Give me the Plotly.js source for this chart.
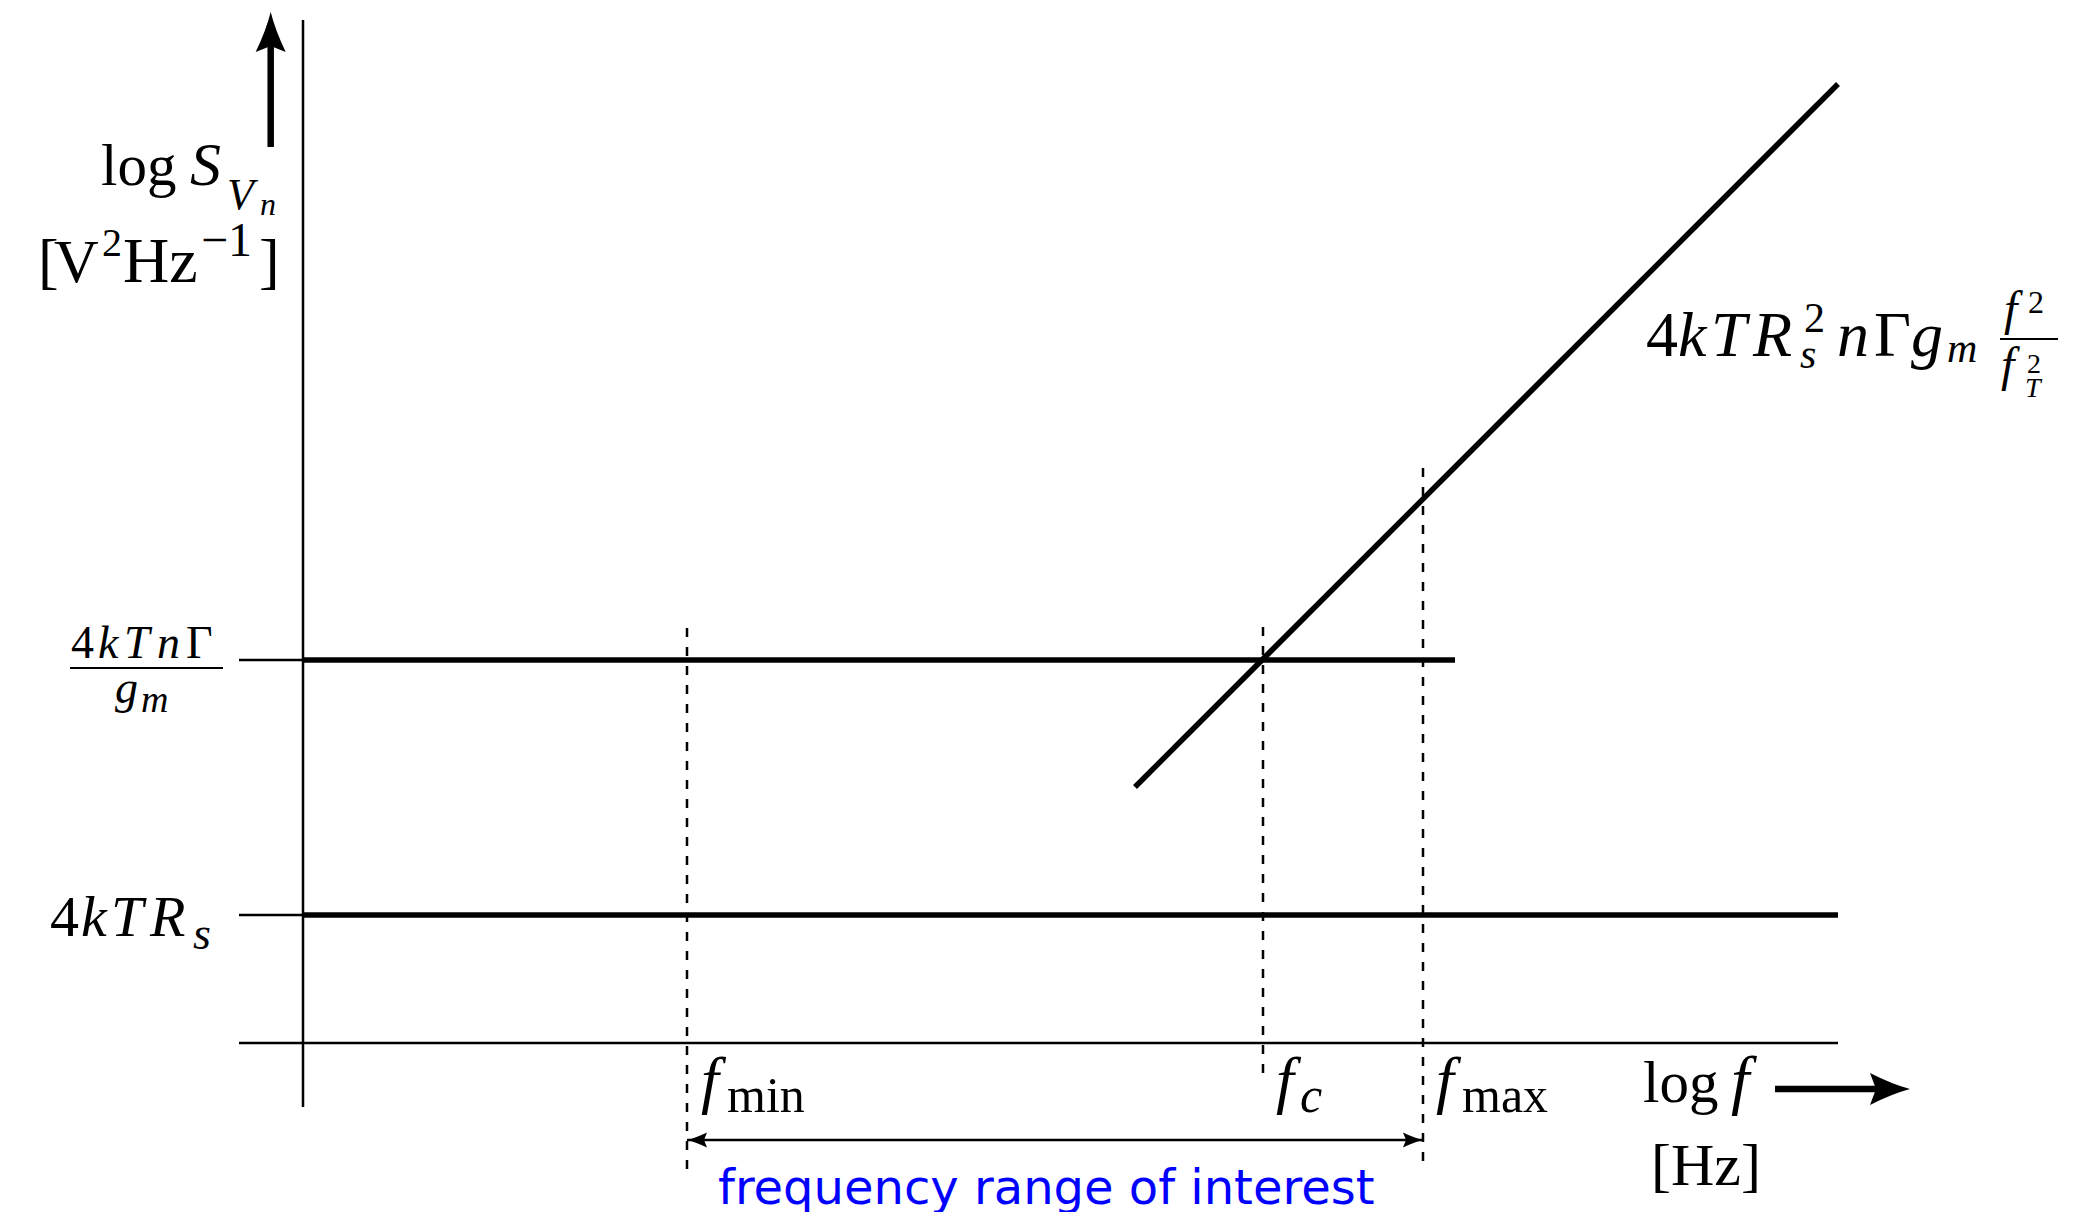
<!DOCTYPE html>
<html>
<head>
<meta charset="utf-8">
<script src="https://cdn.plot.ly/plotly-3.0.1.min.js"></script>
<style>
  html, body { margin: 0; padding: 0; background: #ffffff; }
  #chart { width: 2086px; height: 1212px; }
</style>
</head>
<body>
<div id="chart"></div>
<script>
// Sketch of input-referred noise density: log S_Vn versus log f (arbitrary log units).

// Frequency markers (log f)
const freqNames   = ['fmin', 'fc', 'fmax'];
const freqPos     = [3.84, 9.60, 11.20];
const dashTop     = [4.15, 4.16, 5.75];
const dashBottom  = [-1.29, -0.32, -1.25];

// Noise floors (log S)
const thermalLevel = 1.28;          // 4kTRs
const channelLevel = 3.83;          // 4kTnΓ/gm
const thermalSpanX = [0, 15.35];
const channelSpanX = [0, 11.52];

// f^2 asymptote
const slopeX = [8.32, 15.35];
const slopeY = [2.56, 9.59];

// Axis extents
const axisSpanX = [-0.64, 15.35];
const axisSpanY = [-0.64, 10.23];
const tickSpanX = [-0.64, 0];

// Range-of-interest arrow height
const rangeArrowY = -0.97;

const W = 2086, H = 1212;
const MATH = 'Liberation Serif, serif';
const BLACK = '#000000';

function seg(x, y, width, dash) {
  return {
    type: 'scatter', mode: 'lines', x: x, y: y,
    line: { color: BLACK, width: width, dash: dash || 'solid' },
    hoverinfo: 'skip', showlegend: false, cliponaxis: false
  };
}

const traces = [];
// axes
traces.push(seg(axisSpanX, [0, 0], 2.5));
traces.push(seg([0, 0], axisSpanY, 2.5));
// level ticks
traces.push(seg(tickSpanX, [channelLevel, channelLevel], 2.5));
traces.push(seg(tickSpanX, [thermalLevel, thermalLevel], 2.5));
// noise floors
traces.push(seg(thermalSpanX, [thermalLevel, thermalLevel], 5.5));
traces.push(seg(channelSpanX, [channelLevel, channelLevel], 5.5));
// f^2 slope
traces.push(seg(slopeX, slopeY, 5.5));
// dashed frequency markers
freqPos.forEach((f, i) => traces.push(seg([f, f], [dashTop[i], dashBottom[i]], 2.5, '9px,10px')));
// range shaft
traces.push(seg([freqPos[0], freqPos[2]], [rangeArrowY, rangeArrowY], 2.5));

// axis direction arrows
const upArrow = { x: -0.323, y0: 8.96, tip: 10.31, len: 0.40, half: 0.15 };
const rightArrow = { y: -0.46, x0: 14.72, tip: 16.07, len: 0.40, half: 0.16 };
traces.push(seg([upArrow.x, upArrow.x], [upArrow.y0, upArrow.tip - upArrow.len * 0.8], 6.5));
traces.push(seg([rightArrow.x0, rightArrow.tip - rightArrow.len * 0.8], [rightArrow.y, rightArrow.y], 6.5));

// Arrowhead outline: tip at (tx,ty), pointing along (dx,dy), concave flanks.
function headPath(tx, ty, dx, dy, len, half) {
  const nx = -dy, ny = dx;
  const pt = (a, b) => [tx + dx * a + nx * b, ty + dy * a + ny * b];
  const f = p => p[0].toFixed(4) + ',' + p[1].toFixed(4);
  const c1 = pt(-0.45 * len, 0.30 * half), b1 = pt(-len, half);
  const notch = pt(-0.85 * len, 0);
  const b2 = pt(-len, -half), c2 = pt(-0.45 * len, -0.30 * half);
  return 'M' + f([tx, ty]) + ' Q' + f(c1) + ' ' + f(b1) + ' L' + f(notch) +
         ' L' + f(b2) + ' Q' + f(c2) + ' ' + f([tx, ty]) + ' Z';
}
function head(path) {
  return { type: 'path', xref: 'x', yref: 'y', path: path, fillcolor: BLACK,
           line: { width: 0 }, layer: 'above' };
}

const shapes = [
  head(headPath(upArrow.x, upArrow.tip, 0, 1, upArrow.len, upArrow.half)),
  head(headPath(rightArrow.tip, rightArrow.y, 1, 0, rightArrow.len, rightArrow.half)),
  head(headPath(freqPos[0], rangeArrowY, -1, 0, 0.20, 0.075)),
  head(headPath(freqPos[2], rangeArrowY, 1, 0, 0.20, 0.075)),
  // fraction bar of 4kTnΓ / g_m
  { type: 'line', xref: 'x', yref: 'y', x0: -2.33, x1: -0.80,
    y0: channelLevel - 0.08, y1: channelLevel - 0.08, line: { color: BLACK, width: 2 } },
  // fraction bar of f^2 / f_T^2
  { type: 'line', xref: 'x', yref: 'y', x0: 16.97, x1: 17.55,
    y0: 7.04, y1: 7.04, line: { color: BLACK, width: 2 } }
];

// One typeset piece: left edge and baseline in figure pixels.
function piece(text, left, baseline, size, opts) {
  return Object.assign({
    text: text, xref: 'paper', yref: 'paper',
    x: left / W, y: 1 - (baseline - 0.3375 * size) / H,
    xanchor: 'left', yanchor: 'middle', showarrow: false, borderpad: 0,
    font: { family: MATH, size: size, color: BLACK }
  }, opts || {});
}
// Piece whose horizontal position follows a frequency marker.
function markPiece(text, f, shift, baseline, size) {
  return piece(text, 0, baseline, size, { xref: 'x', x: f, xshift: shift });
}

const annotations = [
  // vertical axis title: log S_{V_n} [V^2 Hz^-1]
  piece('log', 100, 185, 59),
  piece('<i>S</i>', 189, 185, 62),
  piece('<i>V</i>', 226, 209, 44),
  piece('<i>n</i>', 259, 215, 32),
  piece('[', 37, 282, 62),
  piece('V', 53, 282, 62),
  piece('2', 101, 256, 40),
  piece('Hz', 122, 282, 64),
  piece('−1', 200, 256, 48),
  piece(']', 258, 282, 62),

  // 4kTnΓ / g_m
  piece('4', 70, 658, 46),
  piece('<i>k</i>', 97, 658, 46),
  piece('<i>T</i>', 123, 658, 46),
  piece('<i>n</i>', 156, 658, 46),
  piece('Γ', 185, 658, 46),
  piece('<i>g</i>', 114, 703, 46),
  piece('<i>m</i>', 140, 712, 38),

  // 4kTR_s
  piece('4', 49, 936, 58),
  piece('<i>k</i>', 80, 936, 58),
  piece('<i>T</i>', 110, 936, 58),
  piece('<i>R</i>', 148, 936, 58),
  piece('<i>s</i>', 192, 949, 46),

  // 4kTR_s^2 nΓ g_m f^2/f_T^2
  piece('4', 1645, 356, 64),
  piece('<i>k</i>', 1677, 356, 64),
  piece('<i>T</i>', 1710, 356, 64),
  piece('<i>R</i>', 1751, 356, 64),
  piece('<i>s</i>', 1799, 368, 42),
  piece('2', 1803, 332, 42),
  piece('<i>n</i>', 1836, 356, 64),
  piece('Γ', 1873, 356, 64),
  piece('<i>g</i>', 1910, 356, 64),
  piece('<i>m</i>', 1946, 362, 42),
  piece('<i>f</i>', 2003, 325, 48),
  piece('2', 2027, 313, 32),
  piece('<i>f</i>', 2000, 381, 48),
  piece('2', 2026, 373, 28),
  piece('<i>T</i>', 2024, 397, 28),

  // frequency marker labels
  markPiece('<i>f</i>', freqPos[0], 13, 1101, 64),
  markPiece('min', freqPos[0], 39, 1112, 50),
  markPiece('<i>f</i>', freqPos[1], 12, 1101, 64),
  markPiece('<i>c</i>', freqPos[1], 36, 1112, 50),
  markPiece('<i>f</i>', freqPos[2], 12, 1101, 64),
  markPiece('max', freqPos[2], 38, 1112, 50),

  // horizontal axis title
  piece('log', 1642, 1102, 59),
  piece('<i>f</i>', 1730, 1102, 66),
  piece('[Hz]', 1650, 1185, 60),

  // range of interest caption
  {
    text: 'frequency range of interest', xref: 'x', yref: 'y',
    x: (freqPos[0] + freqPos[2]) / 2, y: -1.44, xshift: -9,
    xanchor: 'center', yanchor: 'middle', showarrow: false,
    font: { family: 'DejaVu Sans, sans-serif', size: 48, color: '#0000ff' }
  }
];

const layout = {
  width: W, height: H, autosize: false,
  margin: { l: 0, r: 0, t: 0, b: 0, pad: 0 },
  paper_bgcolor: '#ffffff', plot_bgcolor: '#ffffff',
  showlegend: false,
  xaxis: { range: [-3.03, 17.83], visible: false, fixedrange: true },
  yaxis: { range: [-1.69, 10.43], visible: false, fixedrange: true },
  shapes: shapes,
  annotations: annotations
};

Plotly.newPlot('chart', traces, layout, { displayModeBar: false, staticPlot: true });
</script>
</body>
</html>
